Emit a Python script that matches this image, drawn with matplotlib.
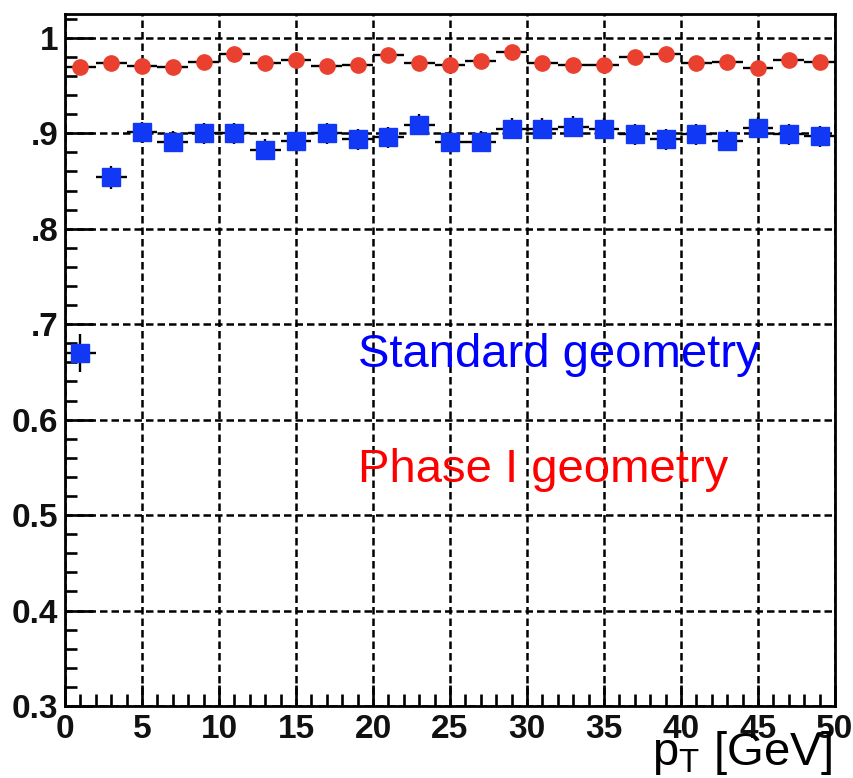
#!/usr/bin/env python3
"""Efficiency vs pT for standard and Phase I pixel geometry (ROOT-style plot)."""

import matplotlib
matplotlib.use("Agg")
import matplotlib.pyplot as plt
from matplotlib.ticker import FixedLocator, FixedFormatter, MultipleLocator

# bin centres (2 GeV bins)
pt = [1, 3, 5, 7, 9, 11, 13, 15, 17, 19, 21, 23, 25,
      27, 29, 31, 33, 35, 37, 39, 41, 43, 45, 47, 49]

eff_phase1 = [0.969, 0.974, 0.971, 0.969, 0.975, 0.983, 0.974, 0.977, 0.971,
              0.972, 0.982, 0.974, 0.972, 0.976, 0.985, 0.974, 0.972, 0.972,
              0.980, 0.983, 0.974, 0.975, 0.968, 0.977, 0.975]
err_phase1 = [0.006] * 25

eff_std = [0.670, 0.854, 0.901, 0.891, 0.900, 0.900, 0.883, 0.892, 0.900,
           0.894, 0.896, 0.909, 0.891, 0.891, 0.905, 0.905, 0.907, 0.905,
           0.899, 0.894, 0.899, 0.892, 0.906, 0.899, 0.897]
err_std = [0.020, 0.012] + [0.011] * 23

ytick_vals = [0.3, 0.4, 0.5, 0.6, 0.7, 0.8, 0.9, 1.0]
ytick_text = ["0.3", "0.4", "0.5", "0.6", ".7", ".8", ".9", "1"]
xtick_vals = [0, 5, 10, 15, 20, 25, 30, 35, 40, 45, 50]

RED = "#ea4030"
BLUE = "#1038f5"

plt.rcParams["font.family"] = ["Liberation Sans", "DejaVu Sans"]
plt.rcParams["mathtext.fontset"] = "custom"
plt.rcParams["mathtext.rm"] = "Liberation Sans"
plt.rcParams["mathtext.it"] = "Liberation Sans"


def main() -> None:
    fig = plt.figure(figsize=(8.54, 7.78), dpi=100)
    ax = fig.add_axes([65 / 854, 72 / 778, 770 / 854, 692 / 778])

    ax.set_xlim(0, 50)
    ax.set_ylim(0.3, 1.025)

    xerr = [1.0] * len(pt)
    ax.errorbar(pt, eff_std, xerr=xerr, yerr=err_std, fmt="s", color="black",
                mfc=BLUE, mec=BLUE, ms=12.5, elinewidth=1.7, capsize=0, zorder=4)
    ax.errorbar(pt, eff_phase1, xerr=xerr, yerr=err_phase1, fmt="o", color="black",
                mfc=RED, mec=RED, ms=11, elinewidth=1.7, capsize=0, zorder=4)

    # ticks
    ax.yaxis.set_major_locator(FixedLocator(ytick_vals))
    ax.yaxis.set_major_formatter(FixedFormatter(ytick_text))
    ax.yaxis.set_minor_locator(MultipleLocator(0.02))
    ax.xaxis.set_major_locator(FixedLocator(xtick_vals))
    ax.xaxis.set_minor_locator(MultipleLocator(1))

    ax.tick_params(axis="both", which="both", direction="in", top=False, right=False,
                   width=1.9, color="black")
    ax.tick_params(axis="y", which="major", length=20, pad=5)
    ax.tick_params(axis="y", which="minor", length=8.5)
    ax.tick_params(axis="x", which="major", length=15, pad=6)
    ax.tick_params(axis="x", which="minor", length=8.5)
    for lab in ax.get_xticklabels() + ax.get_yticklabels():
        lab.set_fontsize(24)
        lab.set_fontweight("bold")
        lab.set_color("#111111")

    for sp in ax.spines.values():
        sp.set_linewidth(2.0)
        sp.set_color("black")

    ax.grid(True, which="major", color="black", linestyle=(0, (3, 1.6)), linewidth=1.8)
    ax.set_axisbelow(True)

    ax.text(19.0, 0.655, "Standard geometry", color="#0000ff", fontsize=34,
            ha="left", va="baseline", zorder=5)
    ax.text(19.0, 0.535, "Phase I geometry", color="#ff0000", fontsize=34,
            ha="left", va="baseline", zorder=5)

    fig.text(833 / 854, 13 / 778, r"p$_{\mathrm{T}}$ [GeV]", fontsize=34,
             ha="right", va="baseline")

    fig.savefig("out.png", dpi=100)
    plt.close(fig)


if __name__ == "__main__":
    main()
